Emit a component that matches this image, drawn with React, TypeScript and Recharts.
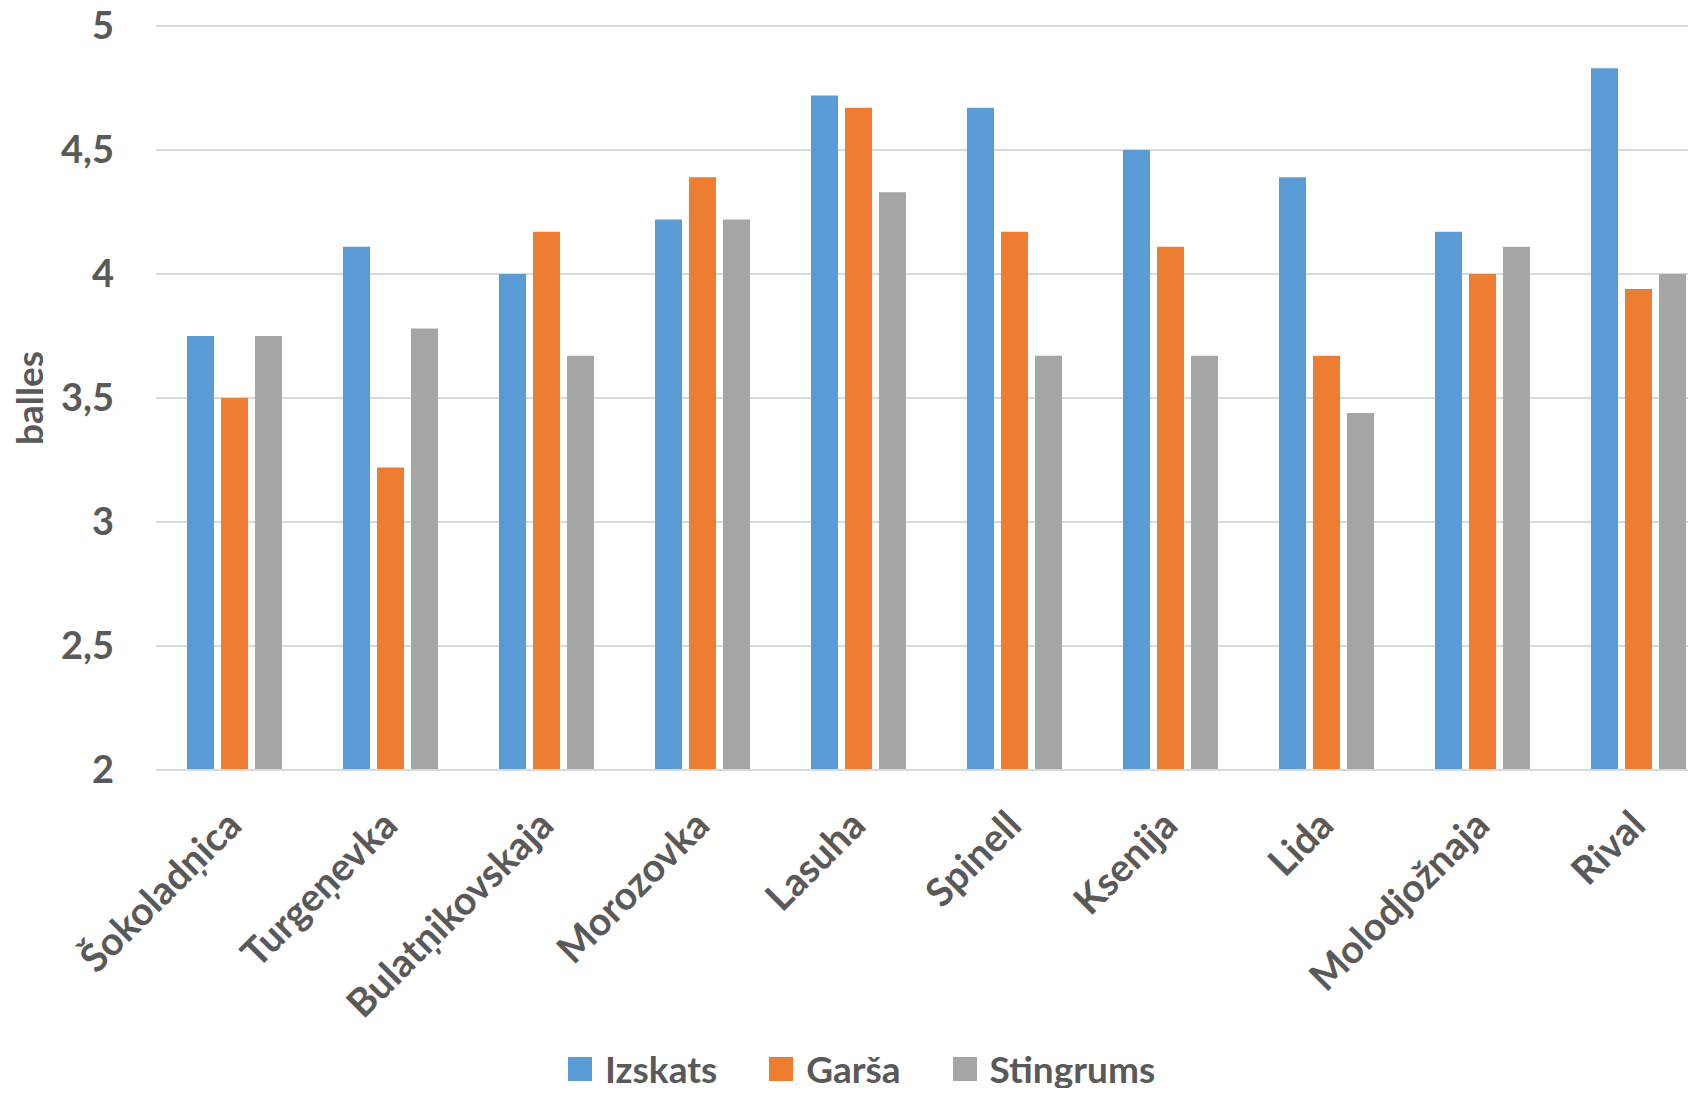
import React from "react";
import { Bar, BarChart, CartesianGrid, XAxis, YAxis } from "recharts";

const categories = [
  "Šokoladņica",
  "Turgeņevka",
  "Bulatņikovskaja",
  "Morozovka",
  "Lasuha",
  "Spinell",
  "Ksenija",
  "Lida",
  "Molodjožnaja",
  "Rival",
];
const izskats = [3.75, 4.11, 4.0, 4.22, 4.72, 4.67, 4.5, 4.39, 4.17, 4.83];
const garsa = [3.5, 3.22, 4.17, 4.39, 4.67, 4.17, 4.11, 3.67, 4.0, 3.94];
const stingrums = [3.75, 3.78, 3.67, 4.22, 4.33, 3.67, 3.67, 3.44, 4.11, 4.0];
const yTicks = [2, 2.5, 3, 3.5, 4, 4.5, 5];

const series = [
  { key: "Izskats", values: izskats, color: "#5B9BD5" },
  { key: "Garša", values: garsa, color: "#ED7D31" },
  { key: "Stingrums", values: stingrums, color: "#A5A5A5" },
];

const data = categories.map((name, i) => {
  const row: Record<string, string | number> = { name };
  series.forEach((s) => {
    row[s.key] = s.values[i];
  });
  return row;
});

const FONT = "Lato, 'Open Sans', sans-serif";
const TEXT = "#595959";
const GRID = "#D9D9D9";

function XTick({ x, y, payload }: any) {
  const ax = x;
  const ay = y + 48;
  return (
    <text
      x={ax}
      y={ay}
      dy="0.35em"
      transform={`rotate(-45 ${ax} ${ay})`}
      textAnchor="end"
      fill={TEXT}
      fontSize={39}
      fontWeight={700}
      fontFamily={FONT}
    >
      {payload.value}
    </text>
  );
}

function YTitle({ viewBox }: any) {
  const cy = viewBox.y + viewBox.height / 2;
  const bx = 43;
  return (
    <text
      x={bx}
      y={cy}
      transform={`rotate(-90 ${bx} ${cy})`}
      textAnchor="middle"
      fill={TEXT}
      fontSize={37}
      fontWeight={700}
      fontFamily={FONT}
    >
      balles
    </text>
  );
}

export default function App() {
  return (
    <div style={{ position: "relative", margin: -8, width: 1696, height: 1096, overflow: "hidden", background: "#fff" }}>
      <BarChart
        width={1740}
        height={1096}
        data={data}
        margin={{ top: 26, right: 24, bottom: 126, left: 0 }}
        barSize={27}
        barGap={7}
      >
        <CartesianGrid vertical={false} stroke={GRID} strokeWidth={2} />
        <XAxis
          dataKey="name"
          interval={0}
          height={200}
          tickLine={false}
          tickSize={0}
          tickMargin={0}
          axisLine={{ stroke: GRID, strokeWidth: 2 }}
          tick={<XTick />}
        />
        <YAxis
          width={156}
          domain={[2, 5]}
          ticks={yTicks}
          axisLine={false}
          tickLine={false}
          tickSize={0}
          tickMargin={42}
          tickFormatter={(v: number) => String(v).replace(".", ",")}
          tick={{ fill: TEXT, fontSize: 38, fontWeight: 700, fontFamily: FONT }}
          label={<YTitle />}
        />
        {series.map((s) => (
          <Bar key={s.key} dataKey={s.key} fill={s.color} isAnimationActive={false} />
        ))}
      </BarChart>
      <div
        style={{
          position: "absolute",
          left: 568,
          top: 1049,
          display: "flex",
          alignItems: "center",
          gap: 52,
          fontFamily: FONT,
          fontWeight: 700,
          fontSize: 37,
          color: TEXT,
          lineHeight: "40px",
          whiteSpace: "nowrap",
        }}
      >
        {series.map((s) => (
          <div key={s.key} style={{ display: "flex", alignItems: "center" }}>
            <span style={{ display: "inline-block", width: 24, height: 24, background: s.color, marginRight: 13 }} />
            <span>{s.key}</span>
          </div>
        ))}
      </div>
    </div>
  );
}
